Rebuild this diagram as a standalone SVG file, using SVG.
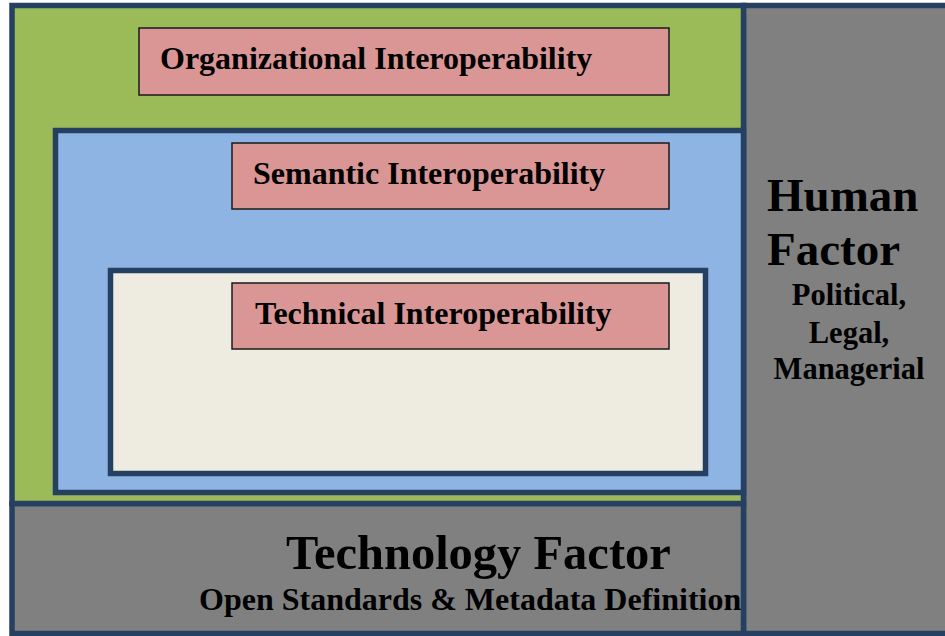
<svg xmlns="http://www.w3.org/2000/svg" width="945" height="636" viewBox="0 0 945 636">
<style>
.frame{stroke:#254061;stroke-width:5.5}
.lbl{fill:#DA9694;stroke:#1a1a1a;stroke-width:1.5}
text{font-family:"Liberation Serif","Times New Roman",serif;font-weight:bold;fill:#000}
.t32{font-size:32px}
.t47{font-size:47px}
.t30{font-size:30.5px}
</style>
<rect x="0" y="0" width="945" height="636" fill="#fff"/>
<g id="human-factor">
<rect class="frame" x="743.5" y="5.5" width="206" height="628" fill="#808080"/>
<text class="t47" x="767" y="211">Human</text>
<text class="t47" x="767" y="265">Factor</text>
<text class="t30" x="849" y="305" text-anchor="middle">Political,</text>
<text class="t30" x="849" y="343" text-anchor="middle">Legal,</text>
<text class="t30" x="849" y="379" text-anchor="middle">Managerial</text>
</g>
<g id="technology-factor">
<rect class="frame" x="12" y="503.5" width="731.5" height="130" fill="#808080"/>
<text class="t47" x="286" y="569" style="font-size:48.5px">Technology Factor</text>
<text class="t32" x="199" y="610">Open Standards &amp; Metadata Definition</text>
</g>
<g id="organizational">
<rect class="frame" x="12" y="5.5" width="731.5" height="498" fill="#9BBB59"/>
<rect class="lbl" x="139" y="28" width="530" height="67"/>
<text class="t32" x="160" y="69">Organizational Interoperability</text>
</g>
<g id="semantic">
<rect class="frame" x="55.5" y="130.5" width="688" height="362" fill="#8EB4E3"/>
<rect class="lbl" x="232" y="143" width="437" height="66"/>
<text class="t32" x="253" y="184">Semantic Interoperability</text>
</g>
<g id="technical">
<rect class="frame" x="110.5" y="270.5" width="595" height="203" fill="#EEECE1"/>
<rect class="lbl" x="232" y="283" width="437" height="66"/>
<text class="t32" x="255" y="324">Technical Interoperability</text>
</g>
<g id="connectors"></g>
</svg>
